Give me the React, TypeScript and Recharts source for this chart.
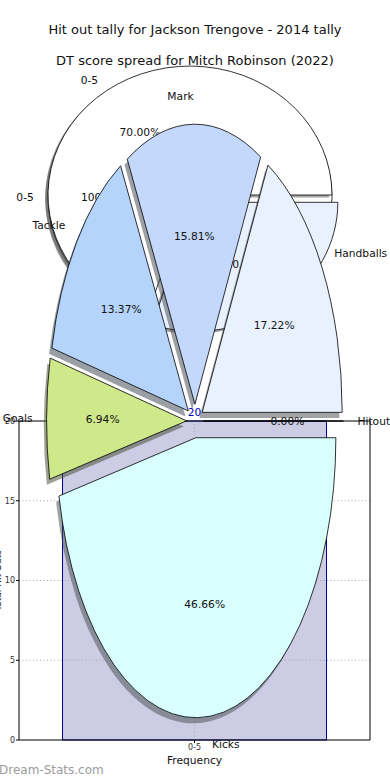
import React from 'react'
import {
  PieChart,
  Pie,
  BarChart,
  Bar,
  XAxis,
  YAxis,
  ReferenceLine,
  LabelList,
} from 'recharts'

const FONT = '"DejaVu Sans", sans-serif'
const RAD = Math.PI / 180

// Frequency bars (2014 hit-out tally)
const freqBins = ['0-5']
const freqCounts = [20]
const freqTicks = [0, 5, 10, 15, 20]
const freqGrid = [5, 10, 15]

// Hit-out tally pies (two overlaid)
const tallyBinsA = ['0-5']
const tallyShareA = [100]
const tallyColorsA = ['#ffffff']
const tallyExplodeA = [0]

const tallyBinsB = ['0-5', '5-10']
const tallyShareB = [70, 30]
const tallyColorsB = ['#ffffff', '#eaf1fe']
const tallyExplodeB = [0, 0.07]

// DT score spread for Mitch Robinson
const dtStats = ['Handballs', 'Mark', 'Tackle', 'Goals', 'Kicks', 'Hitout']
const dtShare = [17.22, 15.81, 13.37, 6.94, 46.66, 0]
const dtColors = ['#eaf1fe', '#c4d8fc', '#b4d4fc', '#cfe88a', '#d8fefe', '#fde4e1']
const dtExplode = [0.06, 0.06, 0.06, 0.06, 0.06, 0.06]

const freqData = freqBins.map((bin, i) => ({ bin, count: freqCounts[i] }))
const tallyDataA = tallyBinsA.map((name, i) => ({ name, value: tallyShareA[i] }))
const tallyDataB = tallyBinsB.map((name, i) => ({ name, value: tallyShareB[i] }))
const dtData = dtStats.map((name, i) => ({ name, value: dtShare[i] }))

interface WedgeStyle {
  ky: number // vertical stretch of the pie
  explode: number[]
  colors: string[]
}

// darker copy of a colour for the drop shadow
function shade(hex: string, f = 0.3) {
  const n = parseInt(hex.slice(1), 16)
  const r = Math.round(((n >> 16) & 255) * f)
  const g = Math.round(((n >> 8) & 255) * f)
  const b = Math.round((n & 255) * f)
  return `rgb(${r},${g},${b})`
}

function wedgePath(cx: number, cy: number, rx: number, ry: number, a0: number, a1: number) {
  const pt = (a: number) => [cx + rx * Math.cos(a * RAD), cy - ry * Math.sin(a * RAD)]
  const span = a1 - a0
  if (span >= 359.99) {
    const [x0, y0] = pt(a0)
    const [xm, ym] = pt(a0 + 180)
    return `M${x0},${y0} A${rx},${ry} 0 1 0 ${xm},${ym} A${rx},${ry} 0 1 0 ${x0},${y0} Z`
  }
  const [x0, y0] = pt(a0)
  const [x1, y1] = pt(a1)
  return `M${cx},${cy} L${x0},${y0} A${rx},${ry} 0 ${span > 180 ? 1 : 0} 0 ${x1},${y1} Z`
}

// sector geometry from recharts, drawn as an ellipse
function geometry(p: any, s: WedgeStyle) {
  const rx = p.outerRadius
  const ry = rx * s.ky
  const mid = ((p.startAngle + p.endAngle) / 2) * RAD
  const e = (s.explode[p.index] || 0) * rx
  const ox = p.cx + e * Math.cos(mid)
  const oy = p.cy - e * s.ky * Math.sin(mid)
  return { rx, ry, mid, ox, oy }
}

const wedgeShapes = (s: WedgeStyle) => (p: any) => {
  const { rx, ry, ox, oy } = geometry(p, s)
  const d = wedgePath(ox, oy, rx, ry, p.startAngle, p.endAngle)
  const fill = s.colors[p.index % s.colors.length]
  return (
    <g key={`wedge-${p.index}`}>
      <path
        d={d}
        transform={`translate(${-0.02 * rx},${0.02 * ry})`}
        fill={shade(fill)}
        fillOpacity={0.5}
        stroke='none'
      />
      <path d={d} fill={fill} stroke='#000' strokeWidth={0.8} strokeLinejoin='round' />
    </g>
  )
}

const wedgeTexts = (s: WedgeStyle) => (p: any) => {
  const { rx, ry, mid, ox, oy } = geometry(p, s)
  const c = Math.cos(mid)
  const sn = Math.sin(mid)
  const lx = ox + 1.1 * rx * c
  const ly = oy - 1.1 * ry * sn
  const px = ox + 0.6 * rx * c
  const py = oy - 0.6 * ry * sn
  const name = p.name ?? p.payload?.name
  return (
    <g key={`text-${p.index}`} style={{ fontFamily: FONT, fontSize: 10.7 }}>
      <text
        x={lx}
        y={ly}
        fill='#111'
        textAnchor={lx > p.cx ? 'start' : 'end'}
        dominantBaseline='central'
      >
        {name}
      </text>
      <text x={px} y={py} fill='#111' textAnchor='middle' dominantBaseline='central'>
        {`${(p.percent * 100).toFixed(2)}%`}
      </text>
    </g>
  )
}

const styleA: WedgeStyle = { ky: 0.908, explode: tallyExplodeA, colors: tallyColorsA }
const styleB: WedgeStyle = { ky: 0.908, explode: tallyExplodeB, colors: tallyColorsB }
const styleDT: WedgeStyle = { ky: 2, explode: dtExplode, colors: dtColors }

const layer: React.CSSProperties = { position: 'absolute', left: 0, top: 0 }
const noMargin = { top: 0, right: 0, bottom: 0, left: 0 }

const pieBase = {
  dataKey: 'value',
  nameKey: 'name',
  startAngle: 0,
  endAngle: 360,
  fill: 'none',
  stroke: 'none',
  labelLine: false,
  isAnimationActive: false,
}

export default function App() {
  const tick = { fontSize: 8, fill: '#333', fontFamily: FONT }
  return (
    <div style={{ position: 'absolute', left: 0, top: 0, width: 390, height: 780, background: '#fff', fontFamily: FONT }}>
      <div style={layer}>
        <BarChart
          width={390}
          height={780}
          data={freqData}
          margin={{ top: 421, right: 19, bottom: 17, left: 0 }}
          barCategoryGap='12.4%'
        >
          <XAxis
            dataKey='bin'
            height={23}
            tickSize={3}
            tickMargin={1}
            tick={tick}
            axisLine={{ stroke: '#000' }}
            tickLine={{ stroke: '#000' }}
            label={{ value: 'Frequency', position: 'insideBottom', offset: -1, fontSize: 10.7, fill: '#111', fontFamily: FONT }}
          />
          <YAxis
            domain={[0, 20]}
            ticks={freqTicks}
            width={19}
            tickSize={3}
            tickMargin={1}
            tick={tick}
            axisLine={{ stroke: '#000' }}
            tickLine={{ stroke: '#000' }}
            label={{
              value: 'Total Hit Outs',
              angle: -90,
              position: 'insideLeft',
              offset: -2,
              fontSize: 9,
              fill: '#111',
              fontFamily: FONT,
              style: { textAnchor: 'middle' },
            }}
          />
          <YAxis
            yAxisId='frame'
            orientation='right'
            width={1}
            domain={[0, 20]}
            tick={false}
            tickLine={false}
            axisLine={{ stroke: '#000' }}
          />
          <Bar dataKey='count' fill='#cccce4' stroke='#00008b' strokeWidth={1} isAnimationActive={false}>
            <LabelList dataKey='count' position='top' offset={5} fill='#0000b4' fontSize={10.7} fontFamily={FONT} />
          </Bar>
          {freqGrid.map(v => (
            <ReferenceLine key={v} y={v} stroke='#aaa' strokeDasharray='1 2.5' />
          ))}
          {freqBins.map(b => (
            <ReferenceLine key={b} x={b} stroke='#aaa' strokeDasharray='1 2.5' />
          ))}
          <ReferenceLine y={20} stroke='#000' />
        </BarChart>
      </div>

      <div style={layer}>
        <PieChart width={390} height={780} margin={noMargin}>
          <Pie {...pieBase} data={tallyDataA} cx={190} cy={197} outerRadius={142} label={wedgeShapes(styleA)} />
          <Pie {...pieBase} data={tallyDataB} cx={190} cy={195} outerRadius={142} label={wedgeShapes(styleB)} />
          <Pie {...pieBase} data={tallyDataA} cx={190} cy={197} outerRadius={142} label={wedgeTexts(styleA)} />
          <Pie {...pieBase} data={tallyDataB} cx={190} cy={195} outerRadius={142} label={wedgeTexts(styleB)} />
        </PieChart>
      </div>

      <div style={layer}>
        <PieChart width={390} height={780} margin={noMargin}>
          <Pie {...pieBase} data={dtData} cx={195} cy={421} outerRadius={140} label={wedgeShapes(styleDT)} />
          <Pie {...pieBase} data={dtData} cx={195} cy={421} outerRadius={140} label={wedgeTexts(styleDT)} />
        </PieChart>
      </div>

      <div style={{ position: 'absolute', left: 0, top: 22, width: 390, textAlign: 'center', fontSize: 13, lineHeight: '16px', color: '#111' }}>
        Hit out tally for Jackson Trengove - 2014 tally
      </div>
      <div style={{ position: 'absolute', left: 0, top: 53, width: 390, textAlign: 'center', fontSize: 13, lineHeight: '16px', color: '#111' }}>
        DT score spread for Mitch Robinson (2022)
      </div>
      <div style={{ position: 'absolute', left: -1, top: 762, fontSize: 12, lineHeight: '16px', color: '#9b9b9b' }}>
        Dream-Stats.com
      </div>
    </div>
  )
}
